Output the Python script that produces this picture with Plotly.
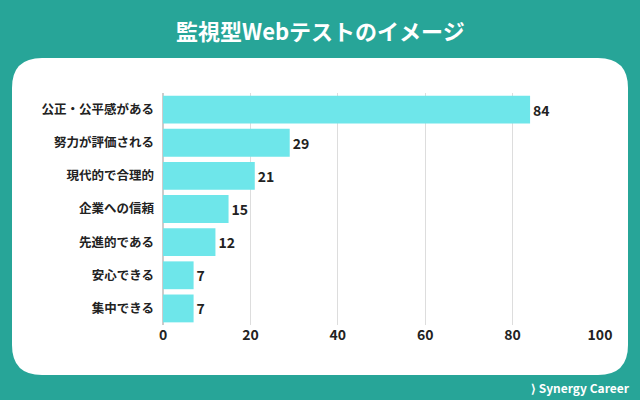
import plotly.graph_objects as go

categories = ["公正・公平感がある", "努力が評価される", "現代的で合理的", "企業への信頼", "先進的である", "安心できる", "集中できる"]
values = [84, 29, 21, 15, 12, 7, 7]
x_ticks = [0, 20, 40, 60, 80, 100]

W, H = 640, 400
L, R, T, B = 163, 40, 93, 75
pw, ph = W - L - R, H - T - B

def px(x): return (x - L) / pw
def py(y): return (H - B - y) / ph

x0, x1, y0, y1 = px(12), px(628), py(58), py(375)
rx, ry = 30 / pw, 30 / ph
path = (f"M {x0+rx},{y0} L {x1-rx},{y0} Q {x1},{y0} {x1},{y0-ry} "
        f"L {x1},{y1+ry} Q {x1},{y1} {x1-rx},{y1} L {x0+rx},{y1} "
        f"Q {x0},{y1} {x0},{y1+ry} L {x0},{y0-ry} Q {x0},{y0} {x0+rx},{y0} Z")

font = "Noto Sans CJK JP"
fig = go.Figure(go.Bar(
    x=values, y=categories, orientation="h",
    marker=dict(color="#6ee6ea", line=dict(width=0)),
    text=values, textposition="outside", cliponaxis=False,
    textfont=dict(family=font, size=14, color="#222", weight="bold"),
    width=0.84,
))
fig.update_layout(
    width=W, height=H, margin=dict(l=L, r=R, t=T, b=B),
    paper_bgcolor="#27a598", plot_bgcolor="rgba(0,0,0,0)",
    font=dict(family=font, color="#222"),
    showlegend=False,
    shapes=[dict(type="path", path=path, xref="paper", yref="paper",
                 fillcolor="white", line=dict(width=0), layer="below")],
    annotations=[
        dict(text="監視型Webテストのイメージ", x=px(320), y=py(30), xref="paper", yref="paper",
             xanchor="center", yanchor="middle", showarrow=False,
             font=dict(size=22, color="white", family=font, weight="bold")),
        dict(text="⟩ Synergy Career", x=px(632), y=py(387), xref="paper", yref="paper",
             xanchor="right", yanchor="middle", showarrow=False,
             font=dict(size=12, color="white", family=font, weight="bold")),
    ],
)
fig.update_xaxes(range=[0, 100], tickvals=x_ticks, showgrid=True, gridcolor="#dddddd",
                 zeroline=True, zerolinecolor="#cccccc", ticks="",
                 tickfont=dict(size=14, color="#222", family=font, weight="bold"))
fig.update_yaxes(autorange="reversed", ticks="", ticklabelstandoff=8,
                 tickfont=dict(size=12.5, color="#222", family=font, weight="bold"))
fig.write_html("out.html", config={"displayModeBar": False},
               post_script="document.body.style.margin='0';document.body.style.overflow='hidden';")
